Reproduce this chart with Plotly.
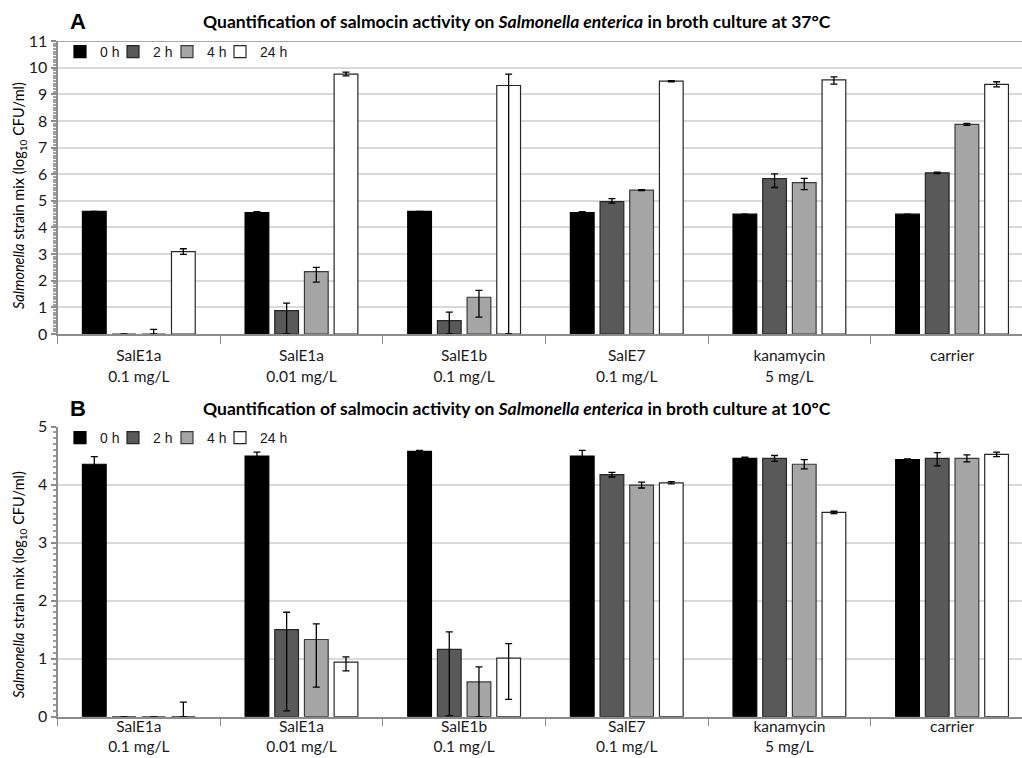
import plotly.graph_objects as go

W, H = 1022, 758

categories = ["SalE1a<br>0.1 mg/L", "SalE1a<br>0.01 mg/L", "SalE1b<br>0.1 mg/L",
              "SalE7<br>0.1 mg/L", "kanamycin<br>5 mg/L", "carrier"]
series_names = ["0 h", "2 h", "4 h", "24 h"]

# Panel A (37 °C)
a_0h = [4.60, 4.56, 4.60, 4.56, 4.50, 4.50]
a_0h_plus = [0.0, 0.03, 0.0, 0.03, 0.0, 0.0]
a_0h_minus = [0.0, 0.03, 0.0, 0.03, 0.0, 0.0]
a_2h = [0.0, 0.88, 0.50, 4.97, 5.83, 6.05]
a_2h_plus = [0.0, 0.28, 0.32, 0.11, 0.18, 0.03]
a_2h_minus = [0.0, 0.88, 0.50, 0.06, 0.33, 0.03]
a_4h = [0.0, 2.34, 1.38, 5.40, 5.68, 7.87]
a_4h_plus = [0.17, 0.16, 0.26, 0.02, 0.16, 0.04]
a_4h_minus = [0.0, 0.39, 0.75, 0.02, 0.26, 0.04]
a_24h = [3.09, 9.76, 9.33, 9.49, 9.54, 9.37]
a_24h_plus = [0.11, 0.07, 0.43, 0.02, 0.11, 0.10]
a_24h_minus = [0.10, 0.07, 9.33, 0.02, 0.16, 0.09]

# Panel B (10 °C)
b_0h = [4.35, 4.49, 4.57, 4.49, 4.45, 4.43]
b_0h_plus = [0.13, 0.07, 0.02, 0.10, 0.02, 0.01]
b_0h_minus = [0.13, 0.07, 0.02, 0.10, 0.02, 0.01]
b_2h = [0.0, 1.50, 1.16, 4.17, 4.45, 4.45]
b_2h_plus = [0.0, 0.30, 0.30, 0.04, 0.05, 0.10]
b_2h_minus = [0.0, 1.40, 1.14, 0.04, 0.05, 0.13]
b_4h = [0.0, 1.33, 0.60, 3.99, 4.35, 4.45]
b_4h_plus = [0.0, 0.27, 0.26, 0.05, 0.08, 0.06]
b_4h_minus = [0.0, 0.82, 0.60, 0.05, 0.08, 0.06]
b_24h = [0.0, 0.94, 1.01, 4.03, 3.52, 4.52]
b_24h_plus = [0.25, 0.09, 0.25, 0.02, 0.02, 0.04]
b_24h_minus = [0.0, 0.15, 0.71, 0.02, 0.02, 0.04]

fills = ["#000000", "#595959", "#a6a6a6", "#ffffff"]
outlines = ["#000000", "#262626", "#3a3a3a", "#262626"]

panel_a = [(a_0h, a_0h_plus, a_0h_minus), (a_2h, a_2h_plus, a_2h_minus),
           (a_4h, a_4h_plus, a_4h_minus), (a_24h, a_24h_plus, a_24h_minus)]
panel_b = [(b_0h, b_0h_plus, b_0h_minus), (b_2h, b_2h_plus, b_2h_minus),
           (b_4h, b_4h_plus, b_4h_minus), (b_24h, b_24h_plus, b_24h_minus)]


def px_x(p):
    return p / W


def px_y(p):
    return 1 - p / H


fig = go.Figure()
legend_ids = {}
for p_idx, (panel, xa, ya) in enumerate([(panel_a, "x", "y"), (panel_b, "x2", "y2")]):
    for i, (vals, plus, minus) in enumerate(panel):
        n = p_idx * 4 + i + 1
        lg = "legend" if n == 1 else f"legend{n}"
        legend_ids[lg] = (p_idx, i)
        fig.add_trace(go.Bar(
            x=categories, y=vals, name=series_names[i], xaxis=xa, yaxis=ya, legend=lg,
            marker=dict(color=fills[i], line=dict(color=outlines[i], width=1.2)),
            error_y=dict(type="data", symmetric=False, array=plus, arrayminus=minus,
                         color="#000000", thickness=1.3, width=3.5),
        ))

x_dom = [px_x(57.5), 1.0]
ya_dom = [px_y(334), px_y(41)]
yb_dom = [px_y(716.7), px_y(426.5)]

tickfont = dict(family="Lato, Carlito, sans-serif", size=16, color="#1a1a1a")
xtickfont = dict(family="Lato, Carlito, sans-serif", size=15.5, color="#1a1a1a")

xcommon = dict(type="category", range=[-0.5, 5.43], tickson="boundaries", ticks="outside",
               ticklen=8, tickcolor="#8c8c8c", tickwidth=1.3, showline=True, linecolor="#8c8c8c",
               linewidth=1.5, showgrid=False, tickfont=xtickfont, domain=x_dom, automargin=False,
               fixedrange=True)
ycommon = dict(dtick=1, showline=True, linecolor="#8c8c8c", linewidth=2, ticks="outside",
               ticklen=5, tickcolor="#8c8c8c", tickwidth=1.5, gridcolor="#d9d9d9", gridwidth=1.5,
               zeroline=False, tickfont=tickfont, automargin=False,
               minor=dict(dtick=0.1, ticks="outside", ticklen=3, tickcolor="#a0a0a0", showgrid=False))

legend_x = [60, 113, 167, 220]
legend_y = [52, 438]
layout_legends = {}
for lg, (p_idx, i) in legend_ids.items():
    layout_legends[lg] = dict(
        orientation="h", xanchor="left", yanchor="middle",
        x=px_x(legend_x[i]), y=px_y(legend_y[p_idx]), itemwidth=30, bgcolor="rgba(0,0,0,0)",
        font=dict(family="Liberation Sans, Arial, sans-serif", size=14, color="#1a1a1a"),
        itemclick=False, itemdoubleclick=False)

fig.update_layout(
    xaxis=dict(**xcommon, anchor="y", ticklabelstandoff=7),
    xaxis2=dict(**xcommon, anchor="y2", ticklabelstandoff=-5),
    yaxis=dict(**ycommon, domain=ya_dom, range=[0, 11], anchor="x"),
    yaxis2=dict(**ycommon, domain=yb_dom, range=[0, 5], anchor="x2"),
    barmode="group", bargap=0.27, bargroupgap=0.2,
    width=W, height=H, margin=dict(l=0, r=0, t=0, b=0),
    paper_bgcolor="white", plot_bgcolor="white",
    showlegend=True,
    **layout_legends,
)

# top border line of panel A plot area
fig.add_shape(type="line", xref="paper", yref="y", x0=x_dom[0], x1=1, y0=11, y1=11,
              line=dict(color="#8c8c8c", width=1.5), layer="below")

title_font = dict(family="Lato, Carlito, sans-serif", size=17.5, color="#000000")
letter_font = dict(family="Liberation Sans, Arial, sans-serif", size=22, color="#000000")
ylab_font = dict(family="Lato, Carlito, sans-serif", size=14.5, color="#000000")
ylab = "<i>Salmonella</i> strain mix (log<sub>10</sub> CFU/ml)"

fig.add_annotation(text="<b>Quantification of salmocin activity on <i>Salmonella enterica</i> in broth culture at 37°C</b>",
                   x=px_x(517), y=px_y(21), xref="paper", yref="paper", showarrow=False,
                   xanchor="center", yanchor="middle", font=title_font)
fig.add_annotation(text="<b>Quantification of salmocin activity on <i>Salmonella enterica</i> in broth culture at 10°C</b>",
                   x=px_x(517), y=px_y(408), xref="paper", yref="paper", showarrow=False,
                   xanchor="center", yanchor="middle", font=title_font)
fig.add_annotation(text="<b>A</b>", x=px_x(68), y=px_y(21), xref="paper", yref="paper",
                   showarrow=False, xanchor="left", yanchor="middle", font=letter_font)
fig.add_annotation(text="<b>B</b>", x=px_x(68), y=px_y(408), xref="paper", yref="paper",
                   showarrow=False, xanchor="left", yanchor="middle", font=letter_font)
fig.add_annotation(text=ylab, x=px_x(19), y=px_y(196), xref="paper", yref="paper",
                   showarrow=False, textangle=-90, xanchor="center", yanchor="middle", font=ylab_font)
fig.add_annotation(text=ylab, x=px_x(19), y=px_y(585), xref="paper", yref="paper",
                   showarrow=False, textangle=-90, xanchor="center", yanchor="middle", font=ylab_font)

fig.write_html("out.html")
